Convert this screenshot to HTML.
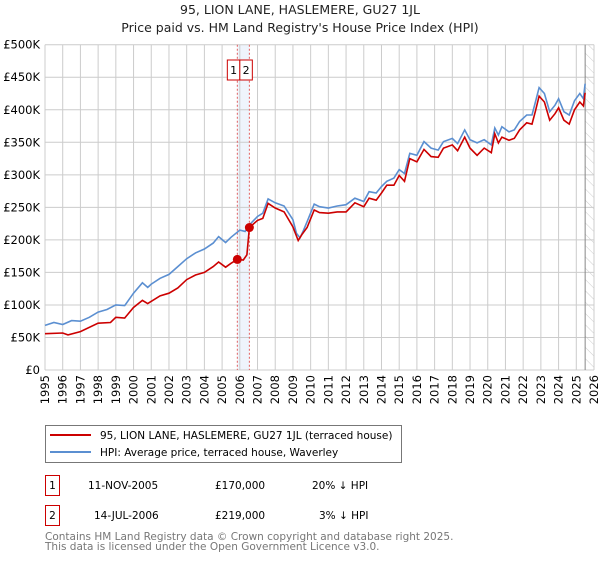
<!DOCTYPE html>
<html><head><meta charset="utf-8"><style>
body{margin:0;background:#fff;font-family:"DejaVu Sans","Liberation Sans",sans-serif;color:#222}
svg text{font-family:"DejaVu Sans","Liberation Sans",sans-serif}
</style></head><body>
<svg id="c" width="600" height="560" xmlns="http://www.w3.org/2000/svg">
<text x="300" y="14" text-anchor="middle" font-size="12.5" fill="#222">95, LION LANE, HASLEMERE, GU27 1JL</text>
<text x="300" y="32" text-anchor="middle" font-size="12.5" fill="#222">Price paid vs. HM Land Registry's House Price Index (HPI)</text>
<g id="grid"></g><g id="marks"></g><g id="axes"></g>
<g>
<rect x="45.5" y="425.5" width="356" height="37" fill="#fff" stroke="#777" stroke-width="1"/>
<line x1="50" y1="435" x2="91" y2="435" stroke="#cc0000" stroke-width="2"/>
<text x="100" y="439" font-size="10.5">95, LION LANE, HASLEMERE, GU27 1JL (terraced house)</text>
<line x1="50" y1="452" x2="91" y2="452" stroke="#5b8fd1" stroke-width="2"/>
<text x="100" y="456" font-size="10.5">HPI: Average price, terraced house, Waverley</text>
</g>
<g font-size="10.5">
<rect x="45.5" y="475.5" width="14" height="20" fill="#fff" stroke="#cc0000"/><text x="52.5" y="489" text-anchor="middle">1</text>
<text x="88" y="489">11-NOV-2005</text><text x="215" y="489">£170,000</text><text x="312" y="489">20% ↓ HPI</text>
<rect x="45.5" y="505.5" width="14" height="20" fill="#fff" stroke="#cc0000"/><text x="52.5" y="519" text-anchor="middle">2</text>
<text x="94" y="519">14-JUL-2006</text><text x="215" y="519">£219,000</text><text x="319" y="519">3% ↓ HPI</text>
</g>
<text x="45" y="540" font-size="10.5" fill="#777">Contains HM Land Registry data © Crown copyright and database right 2025.</text>
<text x="45" y="550" font-size="10.5" fill="#777">This data is licensed under the Open Government Licence v3.0.</text>
</svg>
<script>
const hpiYears=[1995,1995.5,1996,1996.5,1997,1997.5,1998,1998.5,1999,1999.5,2000,2000.5,2000.8,2001,2001.5,2002,2002.5,2003,2003.5,2004,2004.5,2004.8,2005.2,2005.5,2006,2006.3,2006.5,2007,2007.3,2007.6,2008,2008.5,2009,2009.2,2009.4,2009.6,2009.8,2010.2,2010.5,2011,2011.5,2012,2012.5,2013,2013.3,2013.7,2014,2014.3,2014.7,2015,2015.3,2015.6,2016,2016.4,2016.8,2017.2,2017.5,2018,2018.3,2018.7,2019,2019.4,2019.8,2020.2,2020.4,2020.6,2020.8,2021.2,2021.5,2021.8,2022.2,2022.5,2022.7,2022.9,2023.2,2023.5,2023.8,2024,2024.3,2024.6,2024.9,2025.2,2025.4,2025.5];
const hpiValues=[68.6,73,70,76,75,81,89,93,100,99,118,134,127,132,141,147,159,171,180,186,195,205,196,204,215,213,222,236,241,263,257,252,231,210,203,215,228,255,251,249,252,254,264,259,274,272,282,290,295,308,302,333,330,351,341,338,351,356,348,369,354,349,354,346,372,361,374,366,369,382,392,392,413,434,425,397,407,417,397,392,414,425,417,440];
const priceYears=[1995,1996,1996.3,1997,1998,1998.7,1999,1999.5,2000,2000.5,2000.8,2001.5,2002,2002.5,2003,2003.5,2004,2004.5,2004.8,2005.2,2005.5,2005.86,2006.2,2006.4,2006.54,2007,2007.3,2007.6,2008,2008.5,2009,2009.3,2009.5,2009.8,2010.2,2010.5,2011,2011.5,2012,2012.5,2013,2013.3,2013.7,2014,2014.3,2014.7,2015,2015.3,2015.6,2016,2016.4,2016.8,2017.2,2017.5,2018,2018.3,2018.7,2019,2019.4,2019.8,2020.2,2020.4,2020.6,2020.8,2021.2,2021.5,2021.8,2022.2,2022.5,2022.7,2022.9,2023.2,2023.5,2023.8,2024,2024.3,2024.6,2024.9,2025.2,2025.4,2025.5];
const priceValues=[55.8,56.8,54,59,72,73,81,80,96,107,102,114,118,126,139,146,150,159,166,158,164,170,169,177,219,230,233,256,249,243,220,199,208,219,246,242,241,243,243,257,251,264,261,272,284,284,299,290,325,320,339,328,327,341,346,337,358,341,330,341,334,363,349,358,353,356,369,380,378,399,421,412,384,394,403,384,378,400,412,406,426];
const saleYears=[2005.86,2006.54];
const saleValues=[170,219];
const saleLabels=["1","2"];
const yTicks=[0,50,100,150,200,250,300,350,400,450,500];
const yTickLabels=["£0","£50K","£100K","£150K","£200K","£250K","£300K","£350K","£400K","£450K","£500K"];
const xTicks=[1995,1996,1997,1998,1999,2000,2001,2002,2003,2004,2005,2006,2007,2008,2009,2010,2011,2012,2013,2014,2015,2016,2017,2018,2019,2020,2021,2022,2023,2024,2025,2026];

const L=45,R=594,T=44.7,B=370;
const X=y=>L+(y-1995)/(2026-1995)*(R-L);
const Y=v=>B-v/500*(B-T);
const NS="http://www.w3.org/2000/svg";
function mk(p,tag,at){const e=document.createElementNS(NS,tag);for(const k in at)e.setAttribute(k,at[k]);p.appendChild(e);return e;}
const g=document.getElementById('grid'),m=document.getElementById('marks'),a=document.getElementById('axes');
const defs=mk(document.getElementById('c'),'defs',{});
const pat=mk(defs,'pattern',{id:'h',width:8,height:8,patternUnits:'userSpaceOnUse',patternTransform:'rotate(-45)'});
mk(pat,'line',{x1:0,y1:0,x2:0,y2:8,stroke:'#ccc','stroke-width':1});
const hz=mk(g,'rect',{x:X(2025.5),y:T,width:R-X(2025.5),height:B-T,fill:'url(#h)'});


const sh=mk(g,'rect',{x:X(saleYears[0]),y:T,width:X(saleYears[1])-X(saleYears[0]),height:B-T,fill:'#e8f0fb',opacity:0.7});


yTicks.forEach((v,i)=>{
 mk(g,'line',{x1:L,x2:R,y1:Y(v),y2:Y(v),stroke:'#ccc','stroke-width':1});
 const t=mk(a,'text',{x:40,y:Y(v)+4,'text-anchor':'end','font-size':11.5});t.textContent=yTickLabels[i];
 
 
});
xTicks.forEach(yr=>{
 mk(g,'line',{x1:X(yr),x2:X(yr),y1:T,y2:B,stroke:'#ccc','stroke-width':1});
 const t=mk(a,'text',{x:0,y:0,'text-anchor':'end','font-size':11.5,transform:`translate(${X(yr)+4},${B+5}) rotate(-90)`});t.textContent=yr;
 
 
});
mk(g,'line',{x1:X(2025.5),x2:X(2025.5),y1:T,y2:B,stroke:'#888','stroke-width':1});
saleYears.forEach((yr,i)=>{
 mk(m,'line',{x1:X(yr),x2:X(yr),y1:T,y2:B,stroke:'#e06060','stroke-width':1,'stroke-dasharray':'2,2'});
});
function path(xs,vs){return xs.map((x,i)=>(i?'L':'M')+X(x).toFixed(1)+','+Y(vs[i]).toFixed(1)).join('');}
const hp=mk(m,'path',{d:path(hpiYears,hpiValues),fill:'none',stroke:'#5b8fd1','stroke-width':1.6});


const pp=mk(m,'path',{d:path(priceYears,priceValues),fill:'none',stroke:'#cc0000','stroke-width':1.6});


saleYears.forEach((yr,i)=>{
 const c=mk(m,'circle',{cx:X(yr),cy:Y(saleValues[i]),r:4.5,fill:'#cc0000'});
 
 
 const bx=i===0?X(saleYears[0])-10:X(saleYears[0])+2.5;
 mk(m,'rect',{x:bx,y:60,width:12.5,height:20,fill:'#fff',stroke:'#cc0000','stroke-width':1});
 const t=mk(m,'text',{x:bx+6.25,y:74,'text-anchor':'middle','font-size':11});t.textContent=saleLabels[i];
 
 
});
</script>
</body></html>
